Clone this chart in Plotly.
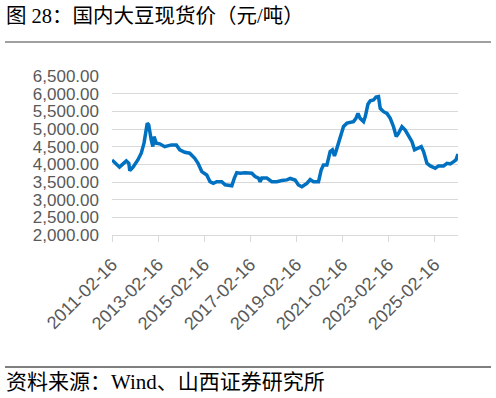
import plotly.graph_objects as go

dates = [
    "2011-02-16", "2011-06-15", "2011-10-01", "2011-11-10", "2011-11-25", "2012-01-15",
    "2012-04-01", "2012-05-25", "2012-07-08", "2012-07-27", "2012-08-28", "2012-09-20",
    "2012-10-10", "2012-10-30", "2012-11-25", "2012-12-13", "2013-01-18", "2013-03-14",
    "2013-06-01", "2013-09-15", "2013-12-03", "2014-01-26", "2014-04-15", "2014-07-03",
    "2014-09-21", "2014-11-12", "2015-01-10", "2015-03-30", "2015-05-21", "2015-07-12",
    "2015-09-04", "2015-11-23", "2016-01-15", "2016-05-01", "2016-06-10", "2016-07-18",
    "2016-09-09", "2016-11-27", "2017-03-14", "2017-05-05", "2017-06-27", "2017-07-24",
    "2017-08-20", "2017-11-07", "2018-01-25", "2018-04-15", "2018-07-03", "2018-09-21",
    "2018-11-13", "2019-01-30", "2019-03-24", "2019-05-17", "2019-08-04", "2019-09-26",
    "2019-11-17", "2020-02-05", "2020-03-18", "2020-04-23", "2020-06-17", "2020-07-12",
    "2020-08-08", "2020-09-13", "2020-10-15", "2020-11-07", "2020-12-18", "2021-02-11",
    "2021-03-08", "2021-05-01", "2021-06-22", "2021-08-13", "2021-09-21", "2021-10-23",
    "2021-11-27", "2022-01-20", "2022-02-16", "2022-03-30", "2022-05-06", "2022-06-27",
    "2022-08-04", "2022-09-14", "2022-10-11", "2022-12-03", "2023-01-26", "2023-03-19",
    "2023-05-10", "2023-06-22", "2023-07-28", "2023-09-21", "2023-11-12", "2024-01-03",
    "2024-02-27", "2024-04-08", "2024-06-01", "2024-07-23", "2024-08-29", "2024-10-21",
    "2024-12-13", "2025-03-03", "2025-04-23", "2025-07-11", "2025-09-05", "2025-10-27",
    "2025-12-19", "2026-01-25", "2026-02-26",
]
prices = [
    4125, 3920, 4095, 4030, 3820, 3920,
    4125, 4315, 4600, 4785, 5165, 5120,
    4880, 4690, 4500, 4785, 4600, 4580,
    4500, 4550, 4550, 4410, 4340, 4315,
    4170, 4030, 3795, 3700, 3510, 3465,
    3510, 3510, 3420, 3395, 3610, 3765,
    3750, 3765, 3750, 3655, 3610, 3510,
    3610, 3610, 3510, 3510, 3540, 3560,
    3600, 3555, 3415, 3365, 3460, 3570,
    3510, 3510, 3840, 3980, 3980, 4220,
    4360, 4410, 4240, 4360, 4600, 4880,
    5070, 5165, 5180, 5210, 5300, 5440,
    5300, 5210, 5350, 5700, 5800, 5820,
    5900, 5915, 5585, 5490, 5440, 5300,
    5065, 4785, 4880, 5065, 4970, 4830,
    4640, 4410, 4455, 4500, 4360, 4030,
    3955, 3890, 3955, 3955, 4030, 4010,
    4075, 4125, 4290,
]
x_ticks = ["2011-02-16", "2013-02-16", "2015-02-16", "2017-02-16",
           "2019-02-16", "2021-02-16", "2023-02-16", "2025-02-16"]
y_ticks = [2000, 2500, 3000, 3500, 4000, 4500, 5000, 5500, 6000, 6500]
title_text = "图 28：国内大豆现货价（元/吨）"
source_text = "资料来源：Wind、山西证券研究所"

W, H = 496, 398
ML, MR, MT, MB = 112, 38, 76, 163
plot_w = W - ML - MR
plot_h = H - MT - MB


def px_x(x):
    return (x - ML) / plot_w


def px_y(y):
    return (H - MB - y) / plot_h


fig = go.Figure()
fig.add_trace(go.Scatter(x=dates, y=prices, mode="lines",
                         line=dict(color="#0070C0", width=3.5), hoverinfo="skip"))

x_font = dict(family="Liberation Sans, Arial", size=18, color="#595959")
y_font = dict(family="Liberation Sans, Arial", size=17, color="#595959")
fig.update_layout(
    width=W, height=H,
    margin=dict(l=ML, r=MR, t=MT, b=MB, autoexpand=False),
    paper_bgcolor="white", plot_bgcolor="white",
    showlegend=False,
    xaxis=dict(
        type="date", range=[dates[0], dates[-1]], automargin=False,
        tickmode="array", tickvals=x_ticks, ticktext=x_ticks,
        tickangle=-45, tickfont=x_font, ticklabelstandoff=5,
        ticks="outside", ticklen=6, tickcolor="#d9d9d9", tickwidth=1,
        showgrid=False, showline=True, linecolor="#d9d9d9", linewidth=1,
        zeroline=False,
    ),
    yaxis=dict(
        range=[2000, 6500], automargin=False, tickmode="array", tickvals=y_ticks,
        ticktext=[f"{v:,.2f}" for v in y_ticks],
        tickfont=y_font, showgrid=True, gridcolor="#d9d9d9", gridwidth=1,
        showline=False, zeroline=False, ticks="", ticklabelstandoff=12,
    ),
    shapes=[
        dict(type="line", xref="paper", yref="paper", x0=px_x(5), x1=px_x(491),
             y0=px_y(42), y1=px_y(42), line=dict(color="#808080", width=1.5)),
        dict(type="line", xref="paper", yref="paper", x0=px_x(5), x1=px_x(491),
             y0=px_y(367), y1=px_y(367), line=dict(color="#000000", width=1)),
    ],
)

cjk = "Liberation Serif, Noto Sans CJK SC"
fig.add_annotation(text=title_text, xref="paper", yref="paper",
                   x=px_x(4), y=px_y(16), xanchor="left", yanchor="middle",
                   showarrow=False, font=dict(family=cjk, size=20.5, color="#000000"))
fig.add_annotation(text=source_text, xref="paper", yref="paper",
                   x=px_x(4), y=px_y(382), xanchor="left", yanchor="middle",
                   showarrow=False, font=dict(family=cjk, size=21, color="#000000"))

fig.write_html("out.html", config={"displayModeBar": False},
               post_script="document.body.style.margin='0px';document.body.style.padding='0px';")
